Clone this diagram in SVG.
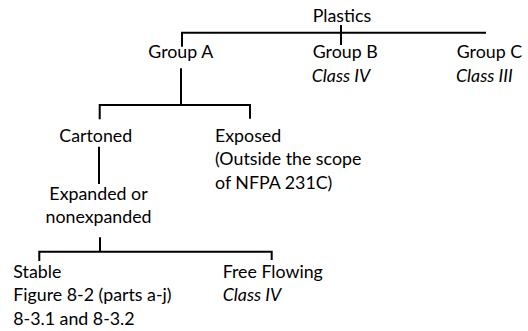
<svg xmlns="http://www.w3.org/2000/svg" width="528" height="331" viewBox="0 0 528 331">
<style>
text{font-family:Lato,"Liberation Sans",sans-serif;font-size:17.8px;fill:#000}
.i{font-style:italic}
.c{stroke:#000;stroke-width:2;fill:none;stroke-linecap:butt}
</style>
<rect width="528" height="331" fill="#fff"/>
<g id="connectors" class="c">
<path d="M181 32.7H486M341 25V45M182 31.7V46.7"/>
<path d="M181 68.3V105M98.7 105H251M99.7 104V119.3M250 104V118.7"/>
<path d="M99 146.7V184"/>
<path d="M100 237.3V251.7M38.3 251.7H272.7M39.3 250.7V261M271.7 250.7V260"/>
</g>
<g id="plastics"><text x="312.7" y="22.3">Plastics</text></g>
<g id="groupA"><text x="148.3" y="58.3">Group A</text></g>
<g id="groupB"><text x="312.7" y="58.3">Group B</text><text class="i" x="311.7" y="81.7">Class IV</text></g>
<g id="groupC"><text x="456.7" y="58.3">Group C</text><text class="i" x="456" y="81.7">Class III</text></g>
<g id="cartoned"><text x="59.3" y="141.7">Cartoned</text></g>
<g id="exposed"><text x="215" y="141.9">Exposed</text><text x="215" y="165.2">(Outside the scope</text><text x="215" y="188.5">of NFPA 231C)</text></g>
<g id="expanded"><text text-anchor="middle" x="98.5" y="200">Expanded or</text><text text-anchor="middle" x="98.5" y="223.4">nonexpanded</text></g>
<g id="stable"><text x="13.3" y="277.8">Stable</text><text x="13.3" y="301.2">Figure 8-2 (parts a-j)</text><text x="13.3" y="324.6">8-3.1 and 8-3.2</text></g>
<g id="freeflowing"><text x="222.7" y="277.8">Free Flowing</text><text class="i" x="222.7" y="301.2">Class IV</text></g>
</svg>
